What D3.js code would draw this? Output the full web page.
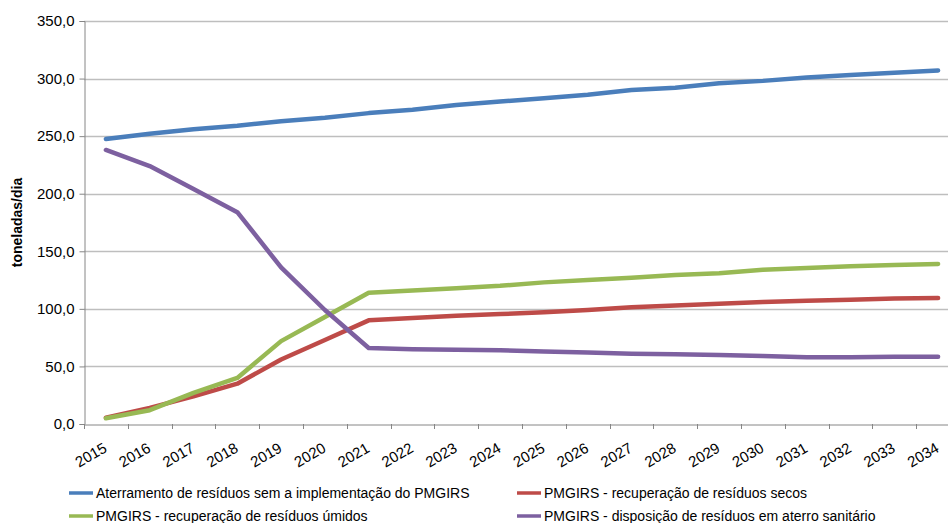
<!DOCTYPE html>
<html>
<head>
<meta charset="utf-8">
<script src="https://cdn.jsdelivr.net/npm/d3@7"></script>
<style>
  body { margin: 0; background: #fff; }
  svg { display: block; font-family: "Liberation Sans", Arial, sans-serif; }
</style>
</head>
<body>
<script>
// data
var years = ['2015','2016','2017','2018','2019','2020','2021','2022','2023','2024',
             '2025','2026','2027','2028','2029','2030','2031','2032','2033','2034'];
var semPmgirs = [247.5,252,256,259,263,266,270,273,277,280,283,286,290,292,296,298,301,303,305,307];
var secos     = [5.5,14,24,35,56,73,90,92,94,95.5,97,99,101.5,103,104.5,106,107,108,109,109.5];
var umidos    = [5,12,27,40,72,93,114,116,118,120,123,125,127,129.5,131,134,135.5,137,138,139];
var aterro    = [238,224,204,184,136,99,66,65,64.5,64,63,62,61,60.5,60,59,58,58,58.5,58.5];
var yTicks = [0,50,100,150,200,250,300,350];

var series = [
  {name: 'Aterramento de resíduos sem a implementação do PMGIRS', values: semPmgirs, color: '#4A7EBB'},
  {name: 'PMGIRS - recuperação de resíduos secos', values: secos, color: '#BE4B48'},
  {name: 'PMGIRS - recuperação de resíduos úmidos', values: umidos, color: '#98B954'},
  {name: 'PMGIRS - disposição de resíduos em aterro sanitário', values: aterro, color: '#7D60A0'}
];

var W = 948, H = 523;
var plotL = 84, plotR = 960, plotT = 21, plotB = 424;

var svg = d3.select('body').append('svg')
    .attr('width', W)
    .attr('height', H);

var xScale = d3.scaleBand().domain(years).range([plotL, plotR]);
var yScale = d3.scaleLinear().domain([0, 350]).range([plotB, plotT]);

// gridlines
svg.append('g')
  .selectAll('line')
  .data(yTicks.slice(1))
  .enter().append('line')
    .attr('x1', plotL).attr('x2', plotR)
    .attr('y1', d => Math.round(yScale(d)) + 0.5).attr('y2', d => Math.round(yScale(d)) + 0.5)
    .style('stroke', '#BEBEBE')
    .style('stroke-width', 1.3);

// y axis
var yAxis = d3.axisLeft(yScale)
    .tickValues(yTicks)
    .tickSize(5)
    .tickPadding(5)
    .tickFormat(d => d3.format('.1f')(d).replace('.', ','));

var gy = svg.append('g')
    .attr('transform', 'translate(' + (plotL + 0.5) + ',0)')
    .call(yAxis);
gy.selectAll('path, line').style('stroke', '#868686');
gy.selectAll('text').style('font-size', '15px').style('fill', '#000');

// x axis with ticks at category boundaries
var xAxis = d3.axisBottom(xScale).tickSize(0).tickFormat('');
var gx = svg.append('g')
    .attr('transform', 'translate(0,' + (plotB + 0.5) + ')')
    .call(xAxis);
gx.select('path').style('stroke', '#868686');

var bounds = years.map(y => xScale(y)).concat([plotR]);
svg.append('g').selectAll('line')
  .data(bounds)
  .enter().append('line')
    .attr('x1', d => Math.round(d) + 0.5).attr('x2', d => Math.round(d) + 0.5)
    .attr('y1', plotB).attr('y2', plotB + 5)
    .style('stroke', '#868686');

svg.append('g').selectAll('text')
  .data(years)
  .enter().append('text')
    .attr('transform', d => 'translate(' + (xScale(d) + xScale.bandwidth() / 2 + 2) + ',' + (plotB + 27) + ') rotate(-30)')
    .attr('text-anchor', 'end')
    .style('font-size', '15px')
    .text(d => d);

// y title
svg.append('text')
    .attr('transform', 'translate(22,' + ((plotT + plotB) / 2) + ') rotate(-90)')
    .attr('text-anchor', 'middle')
    .style('font-size', '14px')
    .style('font-weight', 'bold')
    .text('toneladas/dia');

// lines
var line = d3.line()
    .x((d, i) => xScale(years[i]) + xScale.bandwidth() / 2)
    .y(d => yScale(d));

svg.append('g').selectAll('path')
  .data(series)
  .enter().append('path')
    .attr('d', d => line(d.values))
    .style('fill', 'none')
    .style('stroke', d => d.color)
    .style('stroke-width', 4.5)
    .style('stroke-linejoin', 'round')
    .style('stroke-linecap', 'round');

// legend, two columns
var legPos = [[69, 493], [517, 493], [69, 516], [517, 516]];
var leg = svg.append('g').selectAll('g')
  .data(series)
  .enter().append('g')
    .attr('transform', (d, i) => 'translate(' + legPos[i][0] + ',' + legPos[i][1] + ')');
leg.append('line')
    .attr('x1', 0).attr('x2', 24)
    .attr('y1', 0).attr('y2', 0)
    .style('stroke', d => d.color)
    .style('stroke-width', 3.5);
leg.append('text')
    .attr('x', 27).attr('y', 5)
    .style('font-size', '14px')
    .text(d => d.name);
</script>
</body>
</html>
